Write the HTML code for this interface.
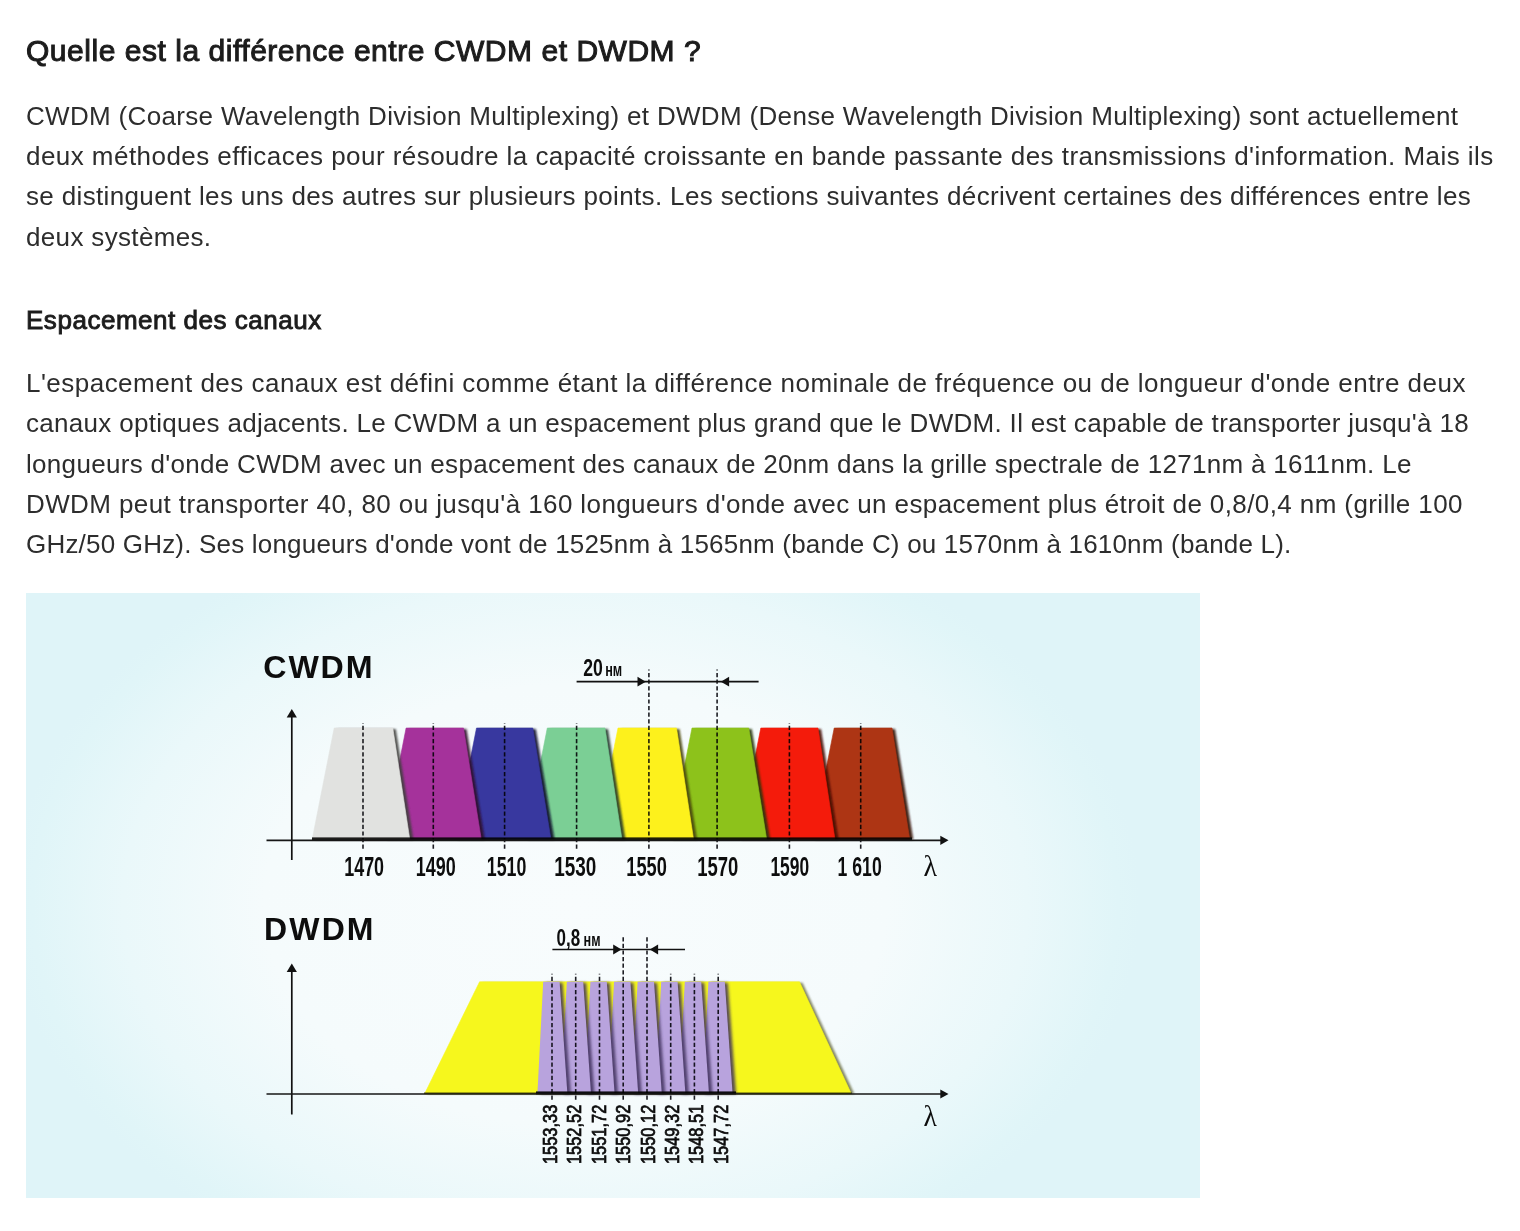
<!DOCTYPE html>
<html lang="fr">
<head>
<meta charset="utf-8">
<title>Quelle est la différence entre CWDM et DWDM ?</title>
<style>
html,body{margin:0;padding:0;background:#fff;}
body{width:1520px;height:1231px;position:relative;overflow:hidden;font-family:"Liberation Sans",Arial,sans-serif;color:#2d2d2d;}
.ln{position:absolute;left:26px;white-space:nowrap;line-height:40px;font-size:26px;}
h2,h3{margin:0;font-weight:400;}
.h{position:absolute;left:26px;white-space:nowrap;line-height:40px;color:#1c1c1c;}
#fig{position:absolute;left:26px;top:593px;width:1174px;height:605px;}
</style>
</head>
<body>
<h2 class="h" id="t0" style="top:30.6px;font-size:30px;-webkit-text-stroke:1px #1c1c1c;letter-spacing:0.531px;">Quelle est la différence entre CWDM et DWDM ?</h2>
<p style="margin:0">
<span class="ln" id="a1" style="top:95.5px;letter-spacing:0.327px;">CWDM (Coarse Wavelength Division Multiplexing) et DWDM (Dense Wavelength Division Multiplexing) sont actuellement</span>
<span class="ln" id="a2" style="top:135.5px;letter-spacing:0.451px;">deux méthodes efficaces pour résoudre la capacité croissante en bande passante des transmissions d'information. Mais ils</span>
<span class="ln" id="a3" style="top:176px;letter-spacing:0.353px;">se distinguent les uns des autres sur plusieurs points. Les sections suivantes décrivent certaines des différences entre les</span>
<span class="ln" id="a4" style="top:216.5px;letter-spacing:0.339px;">deux systèmes.</span>
</p>
<h3 class="h" id="t1" style="top:300px;font-size:26px;-webkit-text-stroke:0.9px #1c1c1c;letter-spacing:0.530px;">Espacement des canaux</h3>
<p style="margin:0">
<span class="ln" id="b1" style="top:363px;letter-spacing:0.473px;">L'espacement des canaux est défini comme étant la différence nominale de fréquence ou de longueur d'onde entre deux</span>
<span class="ln" id="b2" style="top:403px;letter-spacing:0.301px;">canaux optiques adjacents. Le CWDM a un espacement plus grand que le DWDM. Il est capable de transporter jusqu'à 18</span>
<span class="ln" id="b3" style="top:444px;letter-spacing:0.306px;">longueurs d'onde CWDM avec un espacement des canaux de 20nm dans la grille spectrale de 1271nm à 1611nm. Le</span>
<span class="ln" id="b4" style="top:484px;letter-spacing:0.399px;">DWDM peut transporter 40, 80 ou jusqu'à 160 longueurs d'onde avec un espacement plus étroit de 0,8/0,4 nm (grille 100</span>
<span class="ln" id="b5" style="top:524px;letter-spacing:0.196px;">GHz/50 GHz). Ses longueurs d'onde vont de 1525nm à 1565nm (bande C) ou 1570nm à 1610nm (bande L).</span>
</p>
<svg id="fig" viewBox="26 593 1174 605">
<defs>
<radialGradient id="bg" gradientUnits="userSpaceOnUse" cx="575" cy="905" r="565" gradientTransform="translate(575 905) scale(1 0.71) translate(-575 -905)">
<stop offset="0" stop-color="#f8fcfd"/>
<stop offset="0.55" stop-color="#f5fbfc"/>
<stop offset="0.8" stop-color="#eaf8fa"/>
<stop offset="0.96" stop-color="#e0f5f8"/>
<stop offset="1" stop-color="#dff4f8"/>
</radialGradient>
<filter id="blr" x="-20%" y="-20%" width="140%" height="140%"><feGaussianBlur stdDeviation="1.3"/></filter>
<filter id="blr2" x="-50%" y="-20%" width="200%" height="140%"><feGaussianBlur stdDeviation="1.6"/></filter>
</defs>
<rect x="26" y="593" width="1174" height="605" fill="url(#bg)"/>
<!--FIG-->
<g id="cw">
<polygon points="815.2,839.5 837.2,729.0 895.0,729.0 913.3,839.5" fill="#300e05" opacity="0.9" filter="url(#blr)"/>
<polygon points="812.2,839.5 834.2,728.0 892.0,728.0 909.8,839.5" fill="#ad3514" stroke="#ad3514" stroke-width="0.6" stroke-linejoin="round"/>
<polygon points="741.8,839.5 763.8,729.0 821.0,729.0 838.5,839.5" fill="#440703" opacity="0.9" filter="url(#blr)"/>
<polygon points="738.8,839.5 760.8,728.0 818.0,728.0 835.0,839.5" fill="#f41b0b" stroke="#f41b0b" stroke-width="0.6" stroke-linejoin="round"/>
<polygon points="673.0,839.5 695.0,729.0 751.8,729.0 770.2,839.5" fill="#273607" opacity="0.9" filter="url(#blr)"/>
<polygon points="670.0,839.5 692.0,728.0 748.8,728.0 766.7,839.5" fill="#8dc21b" stroke="#8dc21b" stroke-width="0.6" stroke-linejoin="round"/>
<polygon points="599.0,839.5 621.0,729.0 679.5,729.0 697.1,839.5" fill="#464307" opacity="0.9" filter="url(#blr)"/>
<polygon points="596.0,839.5 618.0,728.0 676.5,728.0 693.6,839.5" fill="#fdf11c" stroke="#fdf11c" stroke-width="0.6" stroke-linejoin="round"/>
<polygon points="528.3,839.5 550.3,729.0 608.0,729.0 625.5,839.5" fill="#223929" opacity="0.9" filter="url(#blr)"/>
<polygon points="525.3,839.5 547.3,728.0 605.0,728.0 622.0,839.5" fill="#7bcf95" stroke="#7bcf95" stroke-width="0.6" stroke-linejoin="round"/>
<polygon points="457.5,839.5 479.5,729.0 535.8,729.0 554.5,839.5" fill="#0f0f2c" opacity="0.9" filter="url(#blr)"/>
<polygon points="454.5,839.5 476.5,728.0 532.8,728.0 551.0,839.5" fill="#38389f" stroke="#38389f" stroke-width="0.6" stroke-linejoin="round"/>
<polygon points="387.1,839.5 409.1,729.0 466.5,729.0 484.8,839.5" fill="#2e0e2b" opacity="0.9" filter="url(#blr)"/>
<polygon points="384.1,839.5 406.1,728.0 463.5,728.0 481.3,839.5" fill="#a5329b" stroke="#a5329b" stroke-width="0.6" stroke-linejoin="round"/>
<polygon points="315.2,839.5 337.2,729.0 395.8,729.0 413.3,839.5" fill="#3f3f3e" opacity="0.9" filter="url(#blr)"/>
<polygon points="312.2,839.5 334.2,728.0 392.8,728.0 409.8,839.5" fill="#e1e2e0" stroke="#e1e2e0" stroke-width="0.6" stroke-linejoin="round"/>
</g>
<line x1="363.0" y1="848.8" x2="363.0" y2="723.0" stroke="#1e1e24" stroke-width="1.6" stroke-dasharray="4.2 2.4" style="mix-blend-mode:multiply"/>
<line x1="433.3" y1="848.8" x2="433.3" y2="723.0" stroke="#1e1e24" stroke-width="1.6" stroke-dasharray="4.2 2.4" style="mix-blend-mode:multiply"/>
<line x1="504.6" y1="848.8" x2="504.6" y2="723.0" stroke="#1e1e24" stroke-width="1.6" stroke-dasharray="4.2 2.4" style="mix-blend-mode:multiply"/>
<line x1="576.6" y1="848.8" x2="576.6" y2="723.0" stroke="#1e1e24" stroke-width="1.6" stroke-dasharray="4.2 2.4" style="mix-blend-mode:multiply"/>
<line x1="648.9" y1="848.8" x2="648.9" y2="669.5" stroke="#1e1e24" stroke-width="1.6" stroke-dasharray="4.2 2.4" style="mix-blend-mode:multiply"/>
<line x1="717.1" y1="848.8" x2="717.1" y2="669.5" stroke="#1e1e24" stroke-width="1.6" stroke-dasharray="4.2 2.4" style="mix-blend-mode:multiply"/>
<line x1="789.4" y1="848.8" x2="789.4" y2="723.0" stroke="#1e1e24" stroke-width="1.6" stroke-dasharray="4.2 2.4" style="mix-blend-mode:multiply"/>
<line x1="860.7" y1="848.8" x2="860.7" y2="723.0" stroke="#1e1e24" stroke-width="1.6" stroke-dasharray="4.2 2.4" style="mix-blend-mode:multiply"/>
<rect x="312" y="837.4" width="600" height="3" fill="#202020" style="mix-blend-mode:multiply"/>
<line x1="291.8" y1="715.0" x2="291.8" y2="860.0" stroke="#111" stroke-width="1.7"/>
<polygon points="291.8,709.0 296.9,717.6 286.7,717.6" fill="#111"/>
<line x1="266.5" y1="840.3" x2="942" y2="840.3" stroke="#161616" stroke-width="1.7"/>
<polygon points="948.5,840.3 940.3,835.6999999999999 940.3,844.9" fill="#111"/>
<line x1="576.6" y1="681.7" x2="758.6" y2="681.7" stroke="#111" stroke-width="1.7"/>
<polygon points="645.8,681.7 637.5,676.8000000000001 637.5,686.6" fill="#111"/>
<polygon points="720.8,681.7 729.0999999999999,676.8000000000001 729.0999999999999,686.6" fill="#111"/>
<polygon points="427.5,1094 482.6,982.8 802.5,982.8 854.4,1094" fill="#3a3a00" opacity="0.6" filter="url(#blr)"/>
<polygon points="424.5,1094.0 479.6,981.8 799.5,981.8 851.4,1094.0" fill="#f6f71d" stroke="#f6f71d" stroke-width="0.6" stroke-linejoin="round"/>
<g id="dw">
<polygon points="705.6,1094.0 711.4,982.8 727.8,982.8 736.1,1094.0" fill="#3c2f5a" opacity="0.85" filter="url(#blr2)"/>
<polygon points="702.6,1094.0 708.4,981.8 724.8,981.8 732.6,1094.0" fill="#b8a3dd"/>
<polygon points="682.0,1094.0 687.8,982.8 704.2,982.8 712.5,1094.0" fill="#3c2f5a" opacity="0.85" filter="url(#blr2)"/>
<polygon points="679.0,1094.0 684.8,981.8 701.2,981.8 709.0,1094.0" fill="#b8a3dd"/>
<polygon points="658.4,1094.0 664.2,982.8 680.6,982.8 688.9,1094.0" fill="#3c2f5a" opacity="0.85" filter="url(#blr2)"/>
<polygon points="655.4,1094.0 661.2,981.8 677.6,981.8 685.4,1094.0" fill="#b8a3dd"/>
<polygon points="634.8,1094.0 640.6,982.8 657.0,982.8 665.3,1094.0" fill="#3c2f5a" opacity="0.85" filter="url(#blr2)"/>
<polygon points="631.8,1094.0 637.6,981.8 654.0,981.8 661.8,1094.0" fill="#b8a3dd"/>
<polygon points="611.2,1094.0 617.0,982.8 633.4,982.8 641.7,1094.0" fill="#3c2f5a" opacity="0.85" filter="url(#blr2)"/>
<polygon points="608.2,1094.0 614.0,981.8 630.4,981.8 638.2,1094.0" fill="#b8a3dd"/>
<polygon points="587.6,1094.0 593.4,982.8 609.8,982.8 618.1,1094.0" fill="#3c2f5a" opacity="0.85" filter="url(#blr2)"/>
<polygon points="584.6,1094.0 590.4,981.8 606.8,981.8 614.6,1094.0" fill="#b8a3dd"/>
<polygon points="564.0,1094.0 569.8,982.8 586.2,982.8 594.5,1094.0" fill="#3c2f5a" opacity="0.85" filter="url(#blr2)"/>
<polygon points="561.0,1094.0 566.8,981.8 583.2,981.8 591.0,1094.0" fill="#b8a3dd"/>
<polygon points="540.4,1094.0 546.2,982.8 562.6,982.8 570.9,1094.0" fill="#3c2f5a" opacity="0.85" filter="url(#blr2)"/>
<polygon points="537.4,1094.0 543.2,981.8 559.6,981.8 567.4,1094.0" fill="#b8a3dd"/>
</g>
<line x1="552.0" y1="1099.8" x2="552.0" y2="973.7" stroke="#1e1e24" stroke-width="1.6" stroke-dasharray="4.2 2.4" style="mix-blend-mode:multiply"/>
<line x1="575.7" y1="1099.8" x2="575.7" y2="973.7" stroke="#1e1e24" stroke-width="1.6" stroke-dasharray="4.2 2.4" style="mix-blend-mode:multiply"/>
<line x1="599.5" y1="1099.8" x2="599.5" y2="973.7" stroke="#1e1e24" stroke-width="1.6" stroke-dasharray="4.2 2.4" style="mix-blend-mode:multiply"/>
<line x1="623.2" y1="1099.8" x2="623.2" y2="935.0" stroke="#1e1e24" stroke-width="1.6" stroke-dasharray="4.2 2.4" style="mix-blend-mode:multiply"/>
<line x1="647.0" y1="1099.8" x2="647.0" y2="935.0" stroke="#1e1e24" stroke-width="1.6" stroke-dasharray="4.2 2.4" style="mix-blend-mode:multiply"/>
<line x1="670.7" y1="1099.8" x2="670.7" y2="973.7" stroke="#1e1e24" stroke-width="1.6" stroke-dasharray="4.2 2.4" style="mix-blend-mode:multiply"/>
<line x1="694.4" y1="1099.8" x2="694.4" y2="973.7" stroke="#1e1e24" stroke-width="1.6" stroke-dasharray="4.2 2.4" style="mix-blend-mode:multiply"/>
<line x1="718.2" y1="1099.8" x2="718.2" y2="973.7" stroke="#1e1e24" stroke-width="1.6" stroke-dasharray="4.2 2.4" style="mix-blend-mode:multiply"/>
<rect x="536" y="1091.4" width="200" height="3" fill="#202020" style="mix-blend-mode:multiply"/>
<rect x="424" y="1092.4" width="428" height="1.6" fill="#6a6a50" style="mix-blend-mode:multiply"/>
<line x1="291.8" y1="969.4" x2="291.8" y2="1114.5" stroke="#111" stroke-width="1.7"/>
<polygon points="291.8,963.4 296.9,972.0 286.7,972.0" fill="#111"/>
<line x1="266.5" y1="1094.0" x2="942" y2="1094.0" stroke="#161616" stroke-width="1.7"/>
<polygon points="948.5,1094.0 940.3,1089.4 940.3,1098.6" fill="#111"/>
<line x1="552.4" y1="949.5" x2="685.0" y2="949.5" stroke="#111" stroke-width="1.7"/>
<polygon points="621.5,949.5 613.2,944.6 613.2,954.4" fill="#111"/>
<polygon points="649.8,949.5 658.0999999999999,944.6 658.0999999999999,954.4" fill="#111"/>
<g font-family="Liberation Sans, Arial, sans-serif" fill="#0d0d0d">
<text x="263.3" y="678.3" font-size="32.2" font-weight="700" textLength="109.2" lengthAdjust="spacing">CWDM</text>
<text x="264.1" y="940.2" font-size="32" font-weight="700" textLength="109.4" lengthAdjust="spacing">DWDM</text>
<text x="344.2" y="875.8" font-size="27" font-weight="700" textLength="39.9" lengthAdjust="spacingAndGlyphs">1470</text>
<text x="415.8" y="875.8" font-size="27" font-weight="700" textLength="40.0" lengthAdjust="spacingAndGlyphs">1490</text>
<text x="486.8" y="875.8" font-size="27" font-weight="700" textLength="39.6" lengthAdjust="spacingAndGlyphs">1510</text>
<text x="554.3" y="875.8" font-size="27" font-weight="700" textLength="42.1" lengthAdjust="spacingAndGlyphs">1530</text>
<text x="626.3" y="875.8" font-size="27" font-weight="700" textLength="40.6" lengthAdjust="spacingAndGlyphs">1550</text>
<text x="697.3" y="875.8" font-size="27" font-weight="700" textLength="41.1" lengthAdjust="spacingAndGlyphs">1570</text>
<text x="770.4" y="875.8" font-size="27" font-weight="700" textLength="38.7" lengthAdjust="spacingAndGlyphs">1590</text>
<text x="837.6" y="875.8" font-size="27" font-weight="700" textLength="44.1" lengthAdjust="spacingAndGlyphs">1 610</text>
<text x="583.2" y="676" font-size="24.6" font-weight="700" textLength="19.6" lengthAdjust="spacingAndGlyphs">20</text>
<text x="605.2" y="676" font-size="18" font-weight="700" textLength="17" lengthAdjust="spacingAndGlyphs">нм</text>
<text x="556.6" y="946" font-size="23.2" font-weight="700" textLength="23.6" lengthAdjust="spacingAndGlyphs">0,8</text>
<text x="583.6" y="946" font-size="18.6" font-weight="700" textLength="17" lengthAdjust="spacingAndGlyphs">нм</text>
<text x="923.6" y="876" font-family="Liberation Serif, serif" font-size="30" textLength="13.6" lengthAdjust="spacingAndGlyphs">λ</text>
<text x="923.5" y="1126" font-family="Liberation Serif, serif" font-size="30" textLength="13.4" lengthAdjust="spacingAndGlyphs">λ</text>
<text transform="translate(557.1999999999999 1164) rotate(-90)" x="0" y="0" font-size="19.5" font-weight="400" stroke="#0d0d0d" stroke-width="0.75" textLength="59.3" lengthAdjust="spacingAndGlyphs">1553,33</text>
<text transform="translate(581.4 1164) rotate(-90)" x="0" y="0" font-size="19.5" font-weight="400" stroke="#0d0d0d" stroke-width="0.75" textLength="59.3" lengthAdjust="spacingAndGlyphs">1552,52</text>
<text transform="translate(605.5999999999999 1164) rotate(-90)" x="0" y="0" font-size="19.5" font-weight="400" stroke="#0d0d0d" stroke-width="0.75" textLength="59.3" lengthAdjust="spacingAndGlyphs">1551,72</text>
<text transform="translate(629.8 1164) rotate(-90)" x="0" y="0" font-size="19.5" font-weight="400" stroke="#0d0d0d" stroke-width="0.75" textLength="59.3" lengthAdjust="spacingAndGlyphs">1550,92</text>
<text transform="translate(654.5999999999999 1164) rotate(-90)" x="0" y="0" font-size="19.5" font-weight="400" stroke="#0d0d0d" stroke-width="0.75" textLength="59.3" lengthAdjust="spacingAndGlyphs">1550,12</text>
<text transform="translate(678.8 1164) rotate(-90)" x="0" y="0" font-size="19.5" font-weight="400" stroke="#0d0d0d" stroke-width="0.75" textLength="59.3" lengthAdjust="spacingAndGlyphs">1549,32</text>
<text transform="translate(703.0 1164) rotate(-90)" x="0" y="0" font-size="19.5" font-weight="400" stroke="#0d0d0d" stroke-width="0.75" textLength="59.3" lengthAdjust="spacingAndGlyphs">1548,51</text>
<text transform="translate(727.9 1164) rotate(-90)" x="0" y="0" font-size="19.5" font-weight="400" stroke="#0d0d0d" stroke-width="0.75" textLength="59.3" lengthAdjust="spacingAndGlyphs">1547,72</text>
</g>
<!--/FIG-->
</svg>
</body>
</html>
